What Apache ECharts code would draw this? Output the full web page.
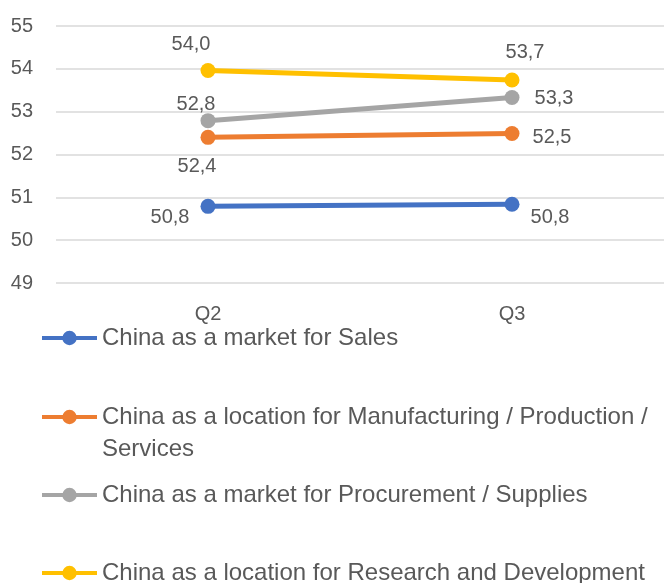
<!DOCTYPE html>
<html>
<head>
<meta charset="utf-8">
<script src="https://cdn.jsdelivr.net/npm/echarts@6/dist/echarts.min.js"></script>
<style>
  html, body { margin: 0; padding: 0; background: #fff; }
  #chart { width: 664px; height: 583px; }
</style>
</head>
<body>
<div id="chart"></div>
<script>
var quarters = ['Q2', 'Q3']
var seriesNames = [
  'China as a market for Sales',
  'China as a location for Manufacturing / Production / Services',
  'China as a market for Procurement / Supplies',
  'China as a location for Research and Development'
]
var sales = [50.79, 50.84]
var manufacturing = [52.4, 52.49]
var procurement = [52.79, 53.33]
var research = [53.96, 53.74]
var colors = ['#4472C4', '#ED7D31', '#A5A5A5', '#FFC000']

// label offsets per point (from the point centre)
var labelOffsets = [
  [[-38, 11], [38, 13]],
  [[-11, 29], [40, 4]],
  [[-12, -16], [42, 1]],
  [[-17, -26], [13, -27]]
]

var font = 'Liberation Sans'
var textColor = '#595959'

function fmt(v) {
  return v.toFixed(1).replace('.', ',')
}

function makeSeries(idx, values) {
  return {
    name: seriesNames[idx],
    type: 'line',
    data: values.map(function (v, i) {
      return {
        value: v,
        label: { offset: labelOffsets[idx][i] }
      }
    }),
    color: colors[idx],
    symbol: 'circle',
    symbolSize: 15,
    lineStyle: { width: 5, color: colors[idx] },
    itemStyle: { color: colors[idx] },
    label: {
      show: true,
      position: 'inside',
      align: 'center',
      verticalAlign: 'middle',
      fontFamily: font,
      fontSize: 20,
      color: textColor,
      formatter: function (p) { return fmt(p.value) }
    },
    emphasis: { disabled: true },
    animation: false
  }
}

// one legend per item so the uneven spacing of the original can be kept
function makeLegend(idx, top, formatter) {
  var leg = {
    data: [seriesNames[idx]],
    orient: 'vertical',
    left: 40,
    top: top,
    padding: 0,
    itemWidth: 55,
    itemHeight: 18,
    lineStyle: { width: 4 },
    textStyle: {
      fontFamily: font,
      fontSize: 24,
      color: textColor,
      lineHeight: 24
    },
    selectedMode: false
  }
  if (formatter) {
    leg.formatter = formatter
    leg.textStyle.lineHeight = 32
  }
  return leg
}

var chart = echarts.init(document.getElementById('chart'))
chart.setOption({
  backgroundColor: '#fff',
  animation: false,
  grid: { left: 56, width: 614, top: 26, bottom: 300 },
  xAxis: {
    type: 'category',
    data: quarters,
    axisLine: { show: false },
    axisTick: { show: false },
    axisLabel: { fontFamily: font, fontSize: 20, color: textColor, margin: 21 }
  },
  yAxis: {
    type: 'value',
    min: 49,
    max: 55,
    interval: 1,
    axisLine: { show: false },
    axisTick: { show: false },
    axisLabel: { fontFamily: font, fontSize: 20, color: textColor, margin: 23 },
    splitLine: { lineStyle: { color: '#D9D9D9', width: 1.5 } }
  },
  legend: [
    makeLegend(0, 326),
    makeLegend(1, 369, function () {
      // empty first line keeps the icon level with the first text line
      return '\nChina as a location for Manufacturing / Production /\nServices'
    }),
    makeLegend(2, 483),
    makeLegend(3, 561)
  ],
  series: [
    makeSeries(0, sales),
    makeSeries(1, manufacturing),
    makeSeries(2, procurement),
    makeSeries(3, research)
  ]
})
</script>
</body>
</html>
